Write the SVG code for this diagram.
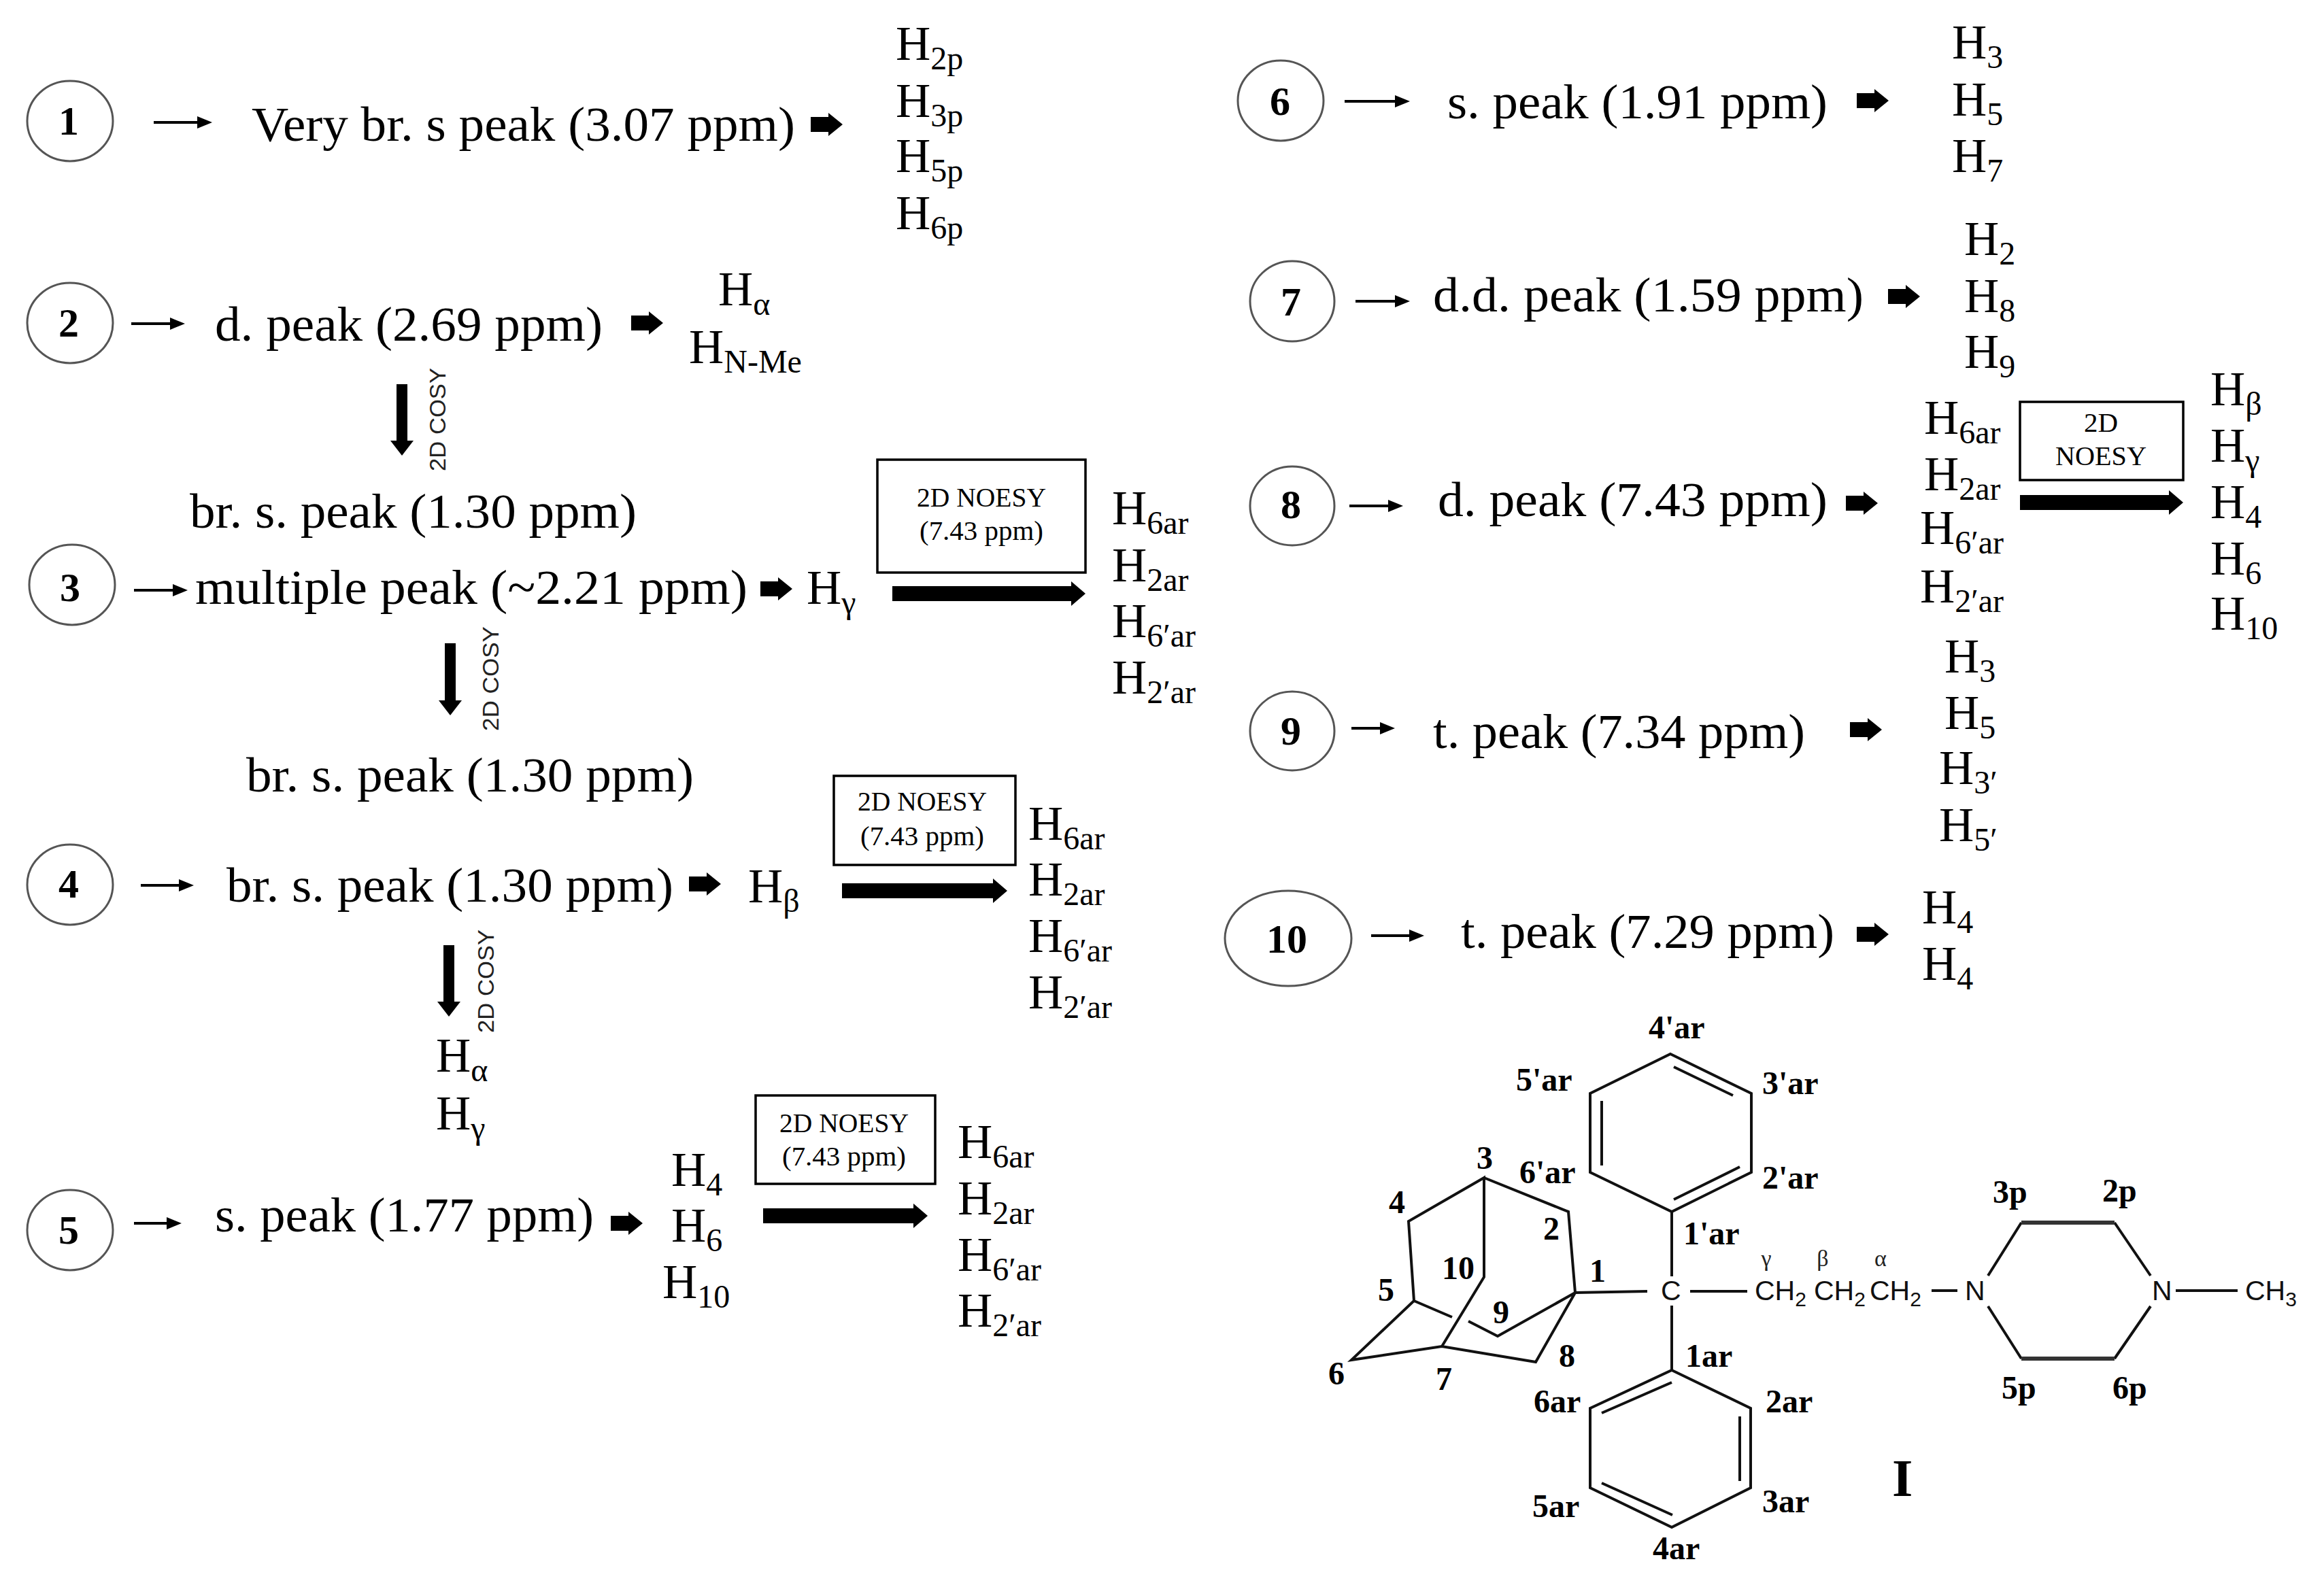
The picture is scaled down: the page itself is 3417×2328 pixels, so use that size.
<svg xmlns="http://www.w3.org/2000/svg" width="3417" height="2328" viewBox="0 0 3417 2328">
<style>
text{font-family:"Liberation Serif","Times New Roman",serif;fill:#000}
.c{fill:#fff;stroke:#555;stroke-width:3}
.d{font-size:60px;font-weight:bold;text-anchor:middle}
.l{font-size:72px;transform:translateY(2px)}
.h{font-size:71px}
.s{font-size:48px}
.b{fill:#fff;stroke:#000;stroke-width:3.5}
.n{font-size:41px}
.y{font-family:"Liberation Sans",Arial,sans-serif;font-size:34px;fill:#222}
.thin{stroke:#000;stroke-width:4;fill:none;marker-end:url(#mt)}
.thick{stroke:#000;stroke-width:22;fill:none;marker-end:url(#mk)}
.cosy{stroke:#000;stroke-width:16;fill:none;marker-end:url(#mc)}
.ba{fill:#000}
.bond{stroke:#111;stroke-width:4;fill:none;stroke-linejoin:miter}
.bt{stroke:#333;stroke-width:6;fill:none}
.lb{font-size:48px;font-weight:bold}
.ar{font-family:"Liberation Sans",Arial,sans-serif;font-size:41px;fill:#111}
.ar2{font-size:30px}
.gr{font-family:"Liberation Serif",serif;font-size:34px;text-anchor:middle;fill:#222}
</style>
<defs>
<marker id="mt" markerUnits="userSpaceOnUse" markerWidth="24" markerHeight="24" refX="2" refY="12" orient="auto"><path d="M0,3 L22,12 L0,21Z"/></marker>
<marker id="mk" markerUnits="userSpaceOnUse" markerWidth="24" markerHeight="40" refX="1" refY="20" orient="auto"><path d="M0,2 L21,20 L0,38Z"/></marker>
<marker id="mc" markerUnits="userSpaceOnUse" markerWidth="26" markerHeight="40" refX="1" refY="20" orient="auto"><path d="M0,3 L22,20 L0,37Z"/></marker>
<path id="ba" d="M0,-11H26V-17L47,0L26,17V11H0Z"/>
</defs>
<rect width="3417" height="2328" fill="#fff"/>

<g id="connectors">
<path class="thin" d="M226,180H292"/>
<path class="thin" d="M193,476H252"/>
<path class="thin" d="M197,868H256"/>
<path class="thin" d="M207,1302H265"/>
<path class="thin" d="M197,1799H247"/>
<path class="thin" d="M1977,149H2053"/>
<path class="thin" d="M1993,443H2053"/>
<path class="thin" d="M1984,744H2043"/>
<path class="thin" d="M1987,1071H2031"/>
<path class="thin" d="M2016,1376H2074"/>
<use href="#ba" class="ba" x="1192" y="183"/>
<use href="#ba" class="ba" x="928" y="475"/>
<use href="#ba" class="ba" x="1118" y="866"/>
<use href="#ba" class="ba" x="1013" y="1300"/>
<use href="#ba" class="ba" x="898" y="1799"/>
<use href="#ba" class="ba" x="2730" y="148"/>
<use href="#ba" class="ba" x="2776" y="436"/>
<use href="#ba" class="ba" x="2714" y="740"/>
<use href="#ba" class="ba" x="2720" y="1073"/>
<use href="#ba" class="ba" x="2730" y="1374"/>
<path class="cosy" d="M591,565V649"/>
<path class="cosy" d="M662,946V1031"/>
<path class="cosy" d="M660,1390V1474"/>
<path class="thick" d="M1312,873H1576"/>
<path class="thick" d="M1238,1310H1461"/>
<path class="thick" d="M1122,1788H1344"/>
<path class="thick" d="M2970,739H3190"/>
</g>

<g id="node-1">
<ellipse class="c" cx="103" cy="178" rx="63" ry="59"/>
<text class="d" x="101" y="198">1</text>
<text class="l" x="370" y="205" textLength="799" lengthAdjust="spacingAndGlyphs">Very br. s peak (3.07 ppm)</text>
<text class="h" x="1317" y="88">H<tspan class="s" dy="14">2p</tspan></text>
<text class="h" x="1317" y="172">H<tspan class="s" dy="14">3p</tspan></text>
<text class="h" x="1317" y="253">H<tspan class="s" dy="14">5p</tspan></text>
<text class="h" x="1317" y="337">H<tspan class="s" dy="14">6p</tspan></text>
</g>

<g id="node-2">
<ellipse class="c" cx="103" cy="475" rx="63" ry="59"/>
<text class="d" x="101" y="495">2</text>
<text class="l" x="316" y="499" textLength="570" lengthAdjust="spacingAndGlyphs">d. peak (2.69 ppm)</text>
<text class="h" x="1056" y="449">H<tspan class="s" dy="14">α</tspan></text>
<text class="h" x="1013" y="534">H<tspan class="s" dy="14">N-Me</tspan></text>
<text class="y" transform="translate(655,693) rotate(-90)" textLength="152" lengthAdjust="spacingAndGlyphs">2D COSY</text>
<text class="l" x="279" y="774" textLength="657" lengthAdjust="spacingAndGlyphs">br. s. peak (1.30 ppm)</text>
</g>

<g id="node-3">
<ellipse class="c" cx="106" cy="860" rx="63" ry="59"/>
<text class="d" x="103" y="884">3</text>
<text class="l" x="287" y="886" textLength="812" lengthAdjust="spacingAndGlyphs">multiple peak (~2.21 ppm)</text>
<text class="h" x="1186" y="888">H<tspan class="s" dy="14">γ</tspan></text>
<rect class="b" x="1290" y="676" width="306" height="166"/>
<text class="n" x="1348" y="745" textLength="190" lengthAdjust="spacingAndGlyphs">2D NOESY</text>
<text class="n" x="1352" y="794" textLength="182" lengthAdjust="spacingAndGlyphs">(7.43 ppm)</text>
<text class="h" x="1635" y="771">H<tspan class="s" dy="14">6ar</tspan></text>
<text class="h" x="1635" y="855">H<tspan class="s" dy="14">2ar</tspan></text>
<text class="h" x="1635" y="937">H<tspan class="s" dy="14">6′ar</tspan></text>
<text class="h" x="1635" y="1020">H<tspan class="s" dy="14">2′ar</tspan></text>
<text class="y" transform="translate(733,1075) rotate(-90)" textLength="154" lengthAdjust="spacingAndGlyphs">2D COSY</text>
<text class="l" x="362" y="1162" textLength="658" lengthAdjust="spacingAndGlyphs">br. s. peak (1.30 ppm)</text>
</g>

<g id="node-4">
<ellipse class="c" cx="103" cy="1301" rx="63" ry="59"/>
<text class="d" x="101" y="1320">4</text>
<text class="l" x="333" y="1324" textLength="657" lengthAdjust="spacingAndGlyphs">br. s. peak (1.30 ppm)</text>
<text class="h" x="1100" y="1327">H<tspan class="s" dy="14">β</tspan></text>
<rect class="b" x="1226" y="1141" width="267" height="131"/>
<text class="n" x="1261" y="1192" textLength="190" lengthAdjust="spacingAndGlyphs">2D NOESY</text>
<text class="n" x="1265" y="1243" textLength="182" lengthAdjust="spacingAndGlyphs">(7.43 ppm)</text>
<text class="h" x="1512" y="1235">H<tspan class="s" dy="14">6ar</tspan></text>
<text class="h" x="1512" y="1317">H<tspan class="s" dy="14">2ar</tspan></text>
<text class="h" x="1512" y="1400">H<tspan class="s" dy="14">6′ar</tspan></text>
<text class="h" x="1512" y="1483">H<tspan class="s" dy="14">2′ar</tspan></text>
<text class="y" transform="translate(726,1519) rotate(-90)" textLength="152" lengthAdjust="spacingAndGlyphs">2D COSY</text>
<text class="h" x="641" y="1576">H<tspan class="s" dy="14">α</tspan></text>
<text class="h" x="641" y="1661">H<tspan class="s" dy="14">γ</tspan></text>
</g>

<g id="node-5">
<ellipse class="c" cx="103" cy="1809" rx="63" ry="59"/>
<text class="d" x="101" y="1829">5</text>
<text class="l" x="316" y="1809" textLength="557" lengthAdjust="spacingAndGlyphs">s. peak (1.77 ppm)</text>
<text class="h" x="987" y="1744">H<tspan class="s" dy="14">4</tspan></text>
<text class="h" x="987" y="1826">H<tspan class="s" dy="14">6</tspan></text>
<text class="h" x="974" y="1909">H<tspan class="s" dy="14">10</tspan></text>
<rect class="b" x="1111" y="1611" width="264" height="130"/>
<text class="n" x="1146" y="1665" textLength="190" lengthAdjust="spacingAndGlyphs">2D NOESY</text>
<text class="n" x="1150" y="1714" textLength="182" lengthAdjust="spacingAndGlyphs">(7.43 ppm)</text>
<text class="h" x="1408" y="1703">H<tspan class="s" dy="14">6ar</tspan></text>
<text class="h" x="1408" y="1786">H<tspan class="s" dy="14">2ar</tspan></text>
<text class="h" x="1408" y="1869">H<tspan class="s" dy="14">6′ar</tspan></text>
<text class="h" x="1408" y="1951">H<tspan class="s" dy="14">2′ar</tspan></text>
</g>

<g id="node-6">
<ellipse class="c" cx="1883" cy="148" rx="63" ry="59"/>
<text class="d" x="1882" y="169">6</text>
<text class="l" x="2128" y="172" textLength="559" lengthAdjust="spacingAndGlyphs">s. peak (1.91 ppm)</text>
<text class="h" x="2870" y="86">H<tspan class="s" dy="14">3</tspan></text>
<text class="h" x="2870" y="170">H<tspan class="s" dy="14">5</tspan></text>
<text class="h" x="2870" y="253">H<tspan class="s" dy="14">7</tspan></text>
</g>

<g id="node-7">
<ellipse class="c" cx="1900" cy="443" rx="62" ry="59"/>
<text class="d" x="1898" y="464">7</text>
<text class="l" x="2107" y="456" textLength="633" lengthAdjust="spacingAndGlyphs">d.d. peak (1.59 ppm)</text>
<text class="h" x="2888" y="375">H<tspan class="s" dy="14">2</tspan></text>
<text class="h" x="2888" y="459">H<tspan class="s" dy="14">8</tspan></text>
<text class="h" x="2888" y="541">H<tspan class="s" dy="14">9</tspan></text>
</g>

<g id="node-8">
<ellipse class="c" cx="1900" cy="744" rx="62" ry="58"/>
<text class="d" x="1898" y="762">8</text>
<text class="l" x="2114" y="757" textLength="573" lengthAdjust="spacingAndGlyphs">d. peak (7.43 ppm)</text>
<text class="h" x="2829" y="638">H<tspan class="s" dy="14">6ar</tspan></text>
<text class="h" x="2829" y="721">H<tspan class="s" dy="14">2ar</tspan></text>
<text class="h" x="2823" y="800">H<tspan class="s" dy="14">6′ar</tspan></text>
<text class="h" x="2823" y="886">H<tspan class="s" dy="14">2′ar</tspan></text>
<rect class="b" x="2970" y="591" width="240" height="115"/>
<text class="n" x="3089" y="635" text-anchor="middle">2D</text>
<text class="n" x="3022" y="684" textLength="134" lengthAdjust="spacingAndGlyphs">NOESY</text>
<text class="h" x="3250" y="596">H<tspan class="s" dy="14">β</tspan></text>
<text class="h" x="3250" y="679">H<tspan class="s" dy="14">γ</tspan></text>
<text class="h" x="3250" y="762">H<tspan class="s" dy="14">4</tspan></text>
<text class="h" x="3250" y="845">H<tspan class="s" dy="14">6</tspan></text>
<text class="h" x="3250" y="926">H<tspan class="s" dy="14">10</tspan></text>
</g>

<g id="node-9">
<ellipse class="c" cx="1900" cy="1075" rx="62" ry="58"/>
<text class="d" x="1898" y="1095">9</text>
<text class="l" x="2107" y="1098" textLength="547" lengthAdjust="spacingAndGlyphs">t. peak (7.34 ppm)</text>
<text class="h" x="2859" y="989">H<tspan class="s" dy="14">3</tspan></text>
<text class="h" x="2859" y="1072">H<tspan class="s" dy="14">5</tspan></text>
<text class="h" x="2851" y="1153">H<tspan class="s" dy="14">3′</tspan></text>
<text class="h" x="2851" y="1237">H<tspan class="s" dy="14">5′</tspan></text>
</g>

<g id="node-10">
<ellipse class="c" cx="1894" cy="1380" rx="93" ry="70"/>
<text class="d" x="1892" y="1401">10</text>
<text class="l" x="2148" y="1392" textLength="549" lengthAdjust="spacingAndGlyphs">t. peak (7.29 ppm)</text>
<text class="h" x="2826" y="1358">H<tspan class="s" dy="14">4</tspan></text>
<text class="h" x="2826" y="1441">H<tspan class="s" dy="14">4</tspan></text>
</g>

<g id="structure">
<path class="bond" d="M2456,1550L2575,1608V1724L2458,1782L2338,1724V1608Z"/>
<path class="bond" d="M2461,1569L2548,1611M2355,1619V1714M2558,1716L2461,1764"/>
<path class="bond" d="M2458,1782V1877M2458,1920V2015"/>
<path class="bond" d="M2458,2015L2574,2071V2188L2458,2246L2338,2188V2071Z"/>
<path class="bond" d="M2458,2033L2355,2078M2558,2083V2178M2355,2181L2459,2228"/>
<path class="bond" d="M2316,1901L2422,1899M2182,1732L2306,1782L2316,1901L2258,2003L2120,1980L1987,2000L2079,1913L2071,1796L2182,1732V1878L2120,1980M2079,1913L2135,1937M2159,1943L2202,1965L2316,1901"/>
<path class="bond" d="M2485,1899H2569M2840,1898H2878M3199,1898H3290"/>
<path class="bond" d="M2923,1876L2972,1798M3109,1798L3162,1876M2923,1921L2972,1998M3109,1998L3162,1921"/>
<path class="bt" d="M2972,1798H3109M2972,1998H3109"/>
<text class="ar" x="2442" y="1912">C</text>
<text class="ar" x="2580" y="1912">CH<tspan class="ar2" dy="9">2</tspan></text>
<text class="ar" x="2667" y="1912">CH<tspan class="ar2" dy="9">2</tspan></text>
<text class="ar" x="2749" y="1912">CH<tspan class="ar2" dy="9">2</tspan></text>
<text class="ar" x="2889" y="1912">N</text>
<text class="ar" x="3164" y="1912">N</text>
<text class="ar" x="3301" y="1912">CH<tspan class="ar2" dy="9">3</tspan></text>
<text class="gr" x="2597" y="1862">γ</text>
<text class="gr" x="2680" y="1862">β</text>
<text class="gr" x="2765" y="1862">α</text>
<text class="lb" x="2424" y="1527">4'ar</text>
<text class="lb" x="2229" y="1604">5'ar</text>
<text class="lb" x="2591" y="1609">3'ar</text>
<text class="lb" x="2234" y="1740">6'ar</text>
<text class="lb" x="2591" y="1748">2'ar</text>
<text class="lb" x="2475" y="1830">1'ar</text>
<text class="lb" x="2171" y="1719">3</text>
<text class="lb" x="2042" y="1784">4</text>
<text class="lb" x="2269" y="1823">2</text>
<text class="lb" x="2120" y="1881">10</text>
<text class="lb" x="2337" y="1885">1</text>
<text class="lb" x="2026" y="1913">5</text>
<text class="lb" x="2195" y="1946">9</text>
<text class="lb" x="2292" y="2010">8</text>
<text class="lb" x="1953" y="2036">6</text>
<text class="lb" x="2111" y="2044">7</text>
<text class="lb" x="2478" y="2010">1ar</text>
<text class="lb" x="2255" y="2077">6ar</text>
<text class="lb" x="2596" y="2077">2ar</text>
<text class="lb" x="2253" y="2231">5ar</text>
<text class="lb" x="2591" y="2224">3ar</text>
<text class="lb" x="2430" y="2293">4ar</text>
<text class="lb" x="2930" y="1769">3p</text>
<text class="lb" x="3091" y="1767">2p</text>
<text class="lb" x="2943" y="2057">5p</text>
<text class="lb" x="3106" y="2057">6p</text>
<text x="2782" y="2200" font-size="78" font-weight="bold">I</text>
</g>
</svg>
